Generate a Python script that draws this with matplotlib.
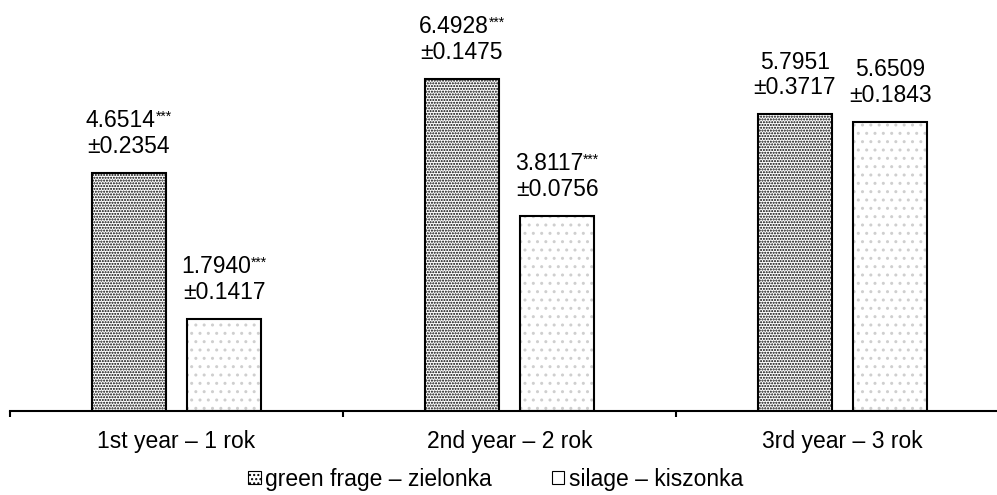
import numpy as np
import matplotlib
matplotlib.use('Agg')
import matplotlib.pyplot as plt
import matplotlib.patches as mpatches

plt.rcParams['font.family'] = ['Liberation Sans', 'DejaVu Sans']
plt.rcParams['hatch.linewidth'] = 1.0
FONT = 16.5

# data
years = ['1st year – 1 rok', '2nd year – 2 rok', '3rd year – 3 rok']
green_mean = [4.6514, 6.4928, 5.7951]
green_sd = [0.2354, 0.1475, 0.3717]
green_sig = ['***', '***', '']
silage_mean = [1.7940, 3.8117, 5.6509]
silage_sd = [0.1417, 0.0756, 0.1843]
silage_sig = ['***', '***', '']
series_names = ['green frage – zielonka', 'silage – kiszonka']

fig = plt.figure(figsize=(9.97, 4.95), dpi=100)
ax = fig.add_axes([10 / 997, 84 / 495, 987 / 997, 411 / 495])

x = np.arange(len(years))
off, w = 0.143, 0.222

series = [
    (x - off, green_mean, green_sd, green_sig, '......', 'black'),
    (x + off, silage_mean, silage_sd, silage_sig, '..', '#cfcfcf'),
]

labels = []
for xs, vals, sds, sigs, hatch, hcol in series:
    ax.bar(xs, vals, w, color='white', edgecolor=hcol, hatch=hatch, linewidth=0, zorder=2)
    ax.bar(xs, vals, w, fill=False, edgecolor='black', linewidth=1.5, zorder=3)
    for xi, v, sd, sig in zip(xs, vals, sds, sigs):
        ax.annotate(f'±{sd:.4f}', (xi, v), xytext=(0, 14.4), textcoords='offset points',
                    ha='center', va='baseline', fontsize=FONT)
        t = ax.annotate(f'{v:.4f}', (xi, v), xytext=(0, 33), textcoords='offset points',
                        ha='center', va='baseline', fontsize=FONT)
        s = None
        if sig:
            s = ax.annotate(sig, xy=(1, 0.97), xycoords=t, ha='left', va='top', fontsize=10)
        labels.append((t, s))

ax.set_xlim(-0.5, -0.5 + 987 / 333)
ax.set_ylim(0, 411 / 51.17)
ax.set_yticks([])
ax.set_xticks(x)
ax.set_xticklabels(years, fontsize=FONT)
ax.set_xticks([-0.5, 0.5, 1.5], minor=True)
ax.tick_params(axis='x', which='major', length=0, pad=14)
ax.tick_params(axis='x', which='minor', length=4, width=1.5, direction='out')
for side in ['top', 'right', 'left']:
    ax.spines[side].set_visible(False)
ax.spines['bottom'].set_linewidth(1.5)

handles = [
    mpatches.Patch(facecolor='white', edgecolor='black', hatch='....', linewidth=0.8),
    mpatches.Patch(facecolor='white', edgecolor='black', hatch='', linewidth=0.8),
]
fig.legend(handles, series_names, loc='center', bbox_to_anchor=(0.497, 0.032),
           ncol=2, frameon=False, fontsize=FONT, handlelength=0.55, handleheight=0.55,
           handletextpad=0.2, columnspacing=2.6)

# shift value lines so value + stars sits centred over the bar
fig.canvas.draw()
r = fig.canvas.get_renderer()
for t, s in labels:
    if s is not None:
        sw = s.get_window_extent(r).width * 72 / fig.dpi
        t.set_position((-sw / 2, 33))

fig.savefig('out.png', dpi=100)
